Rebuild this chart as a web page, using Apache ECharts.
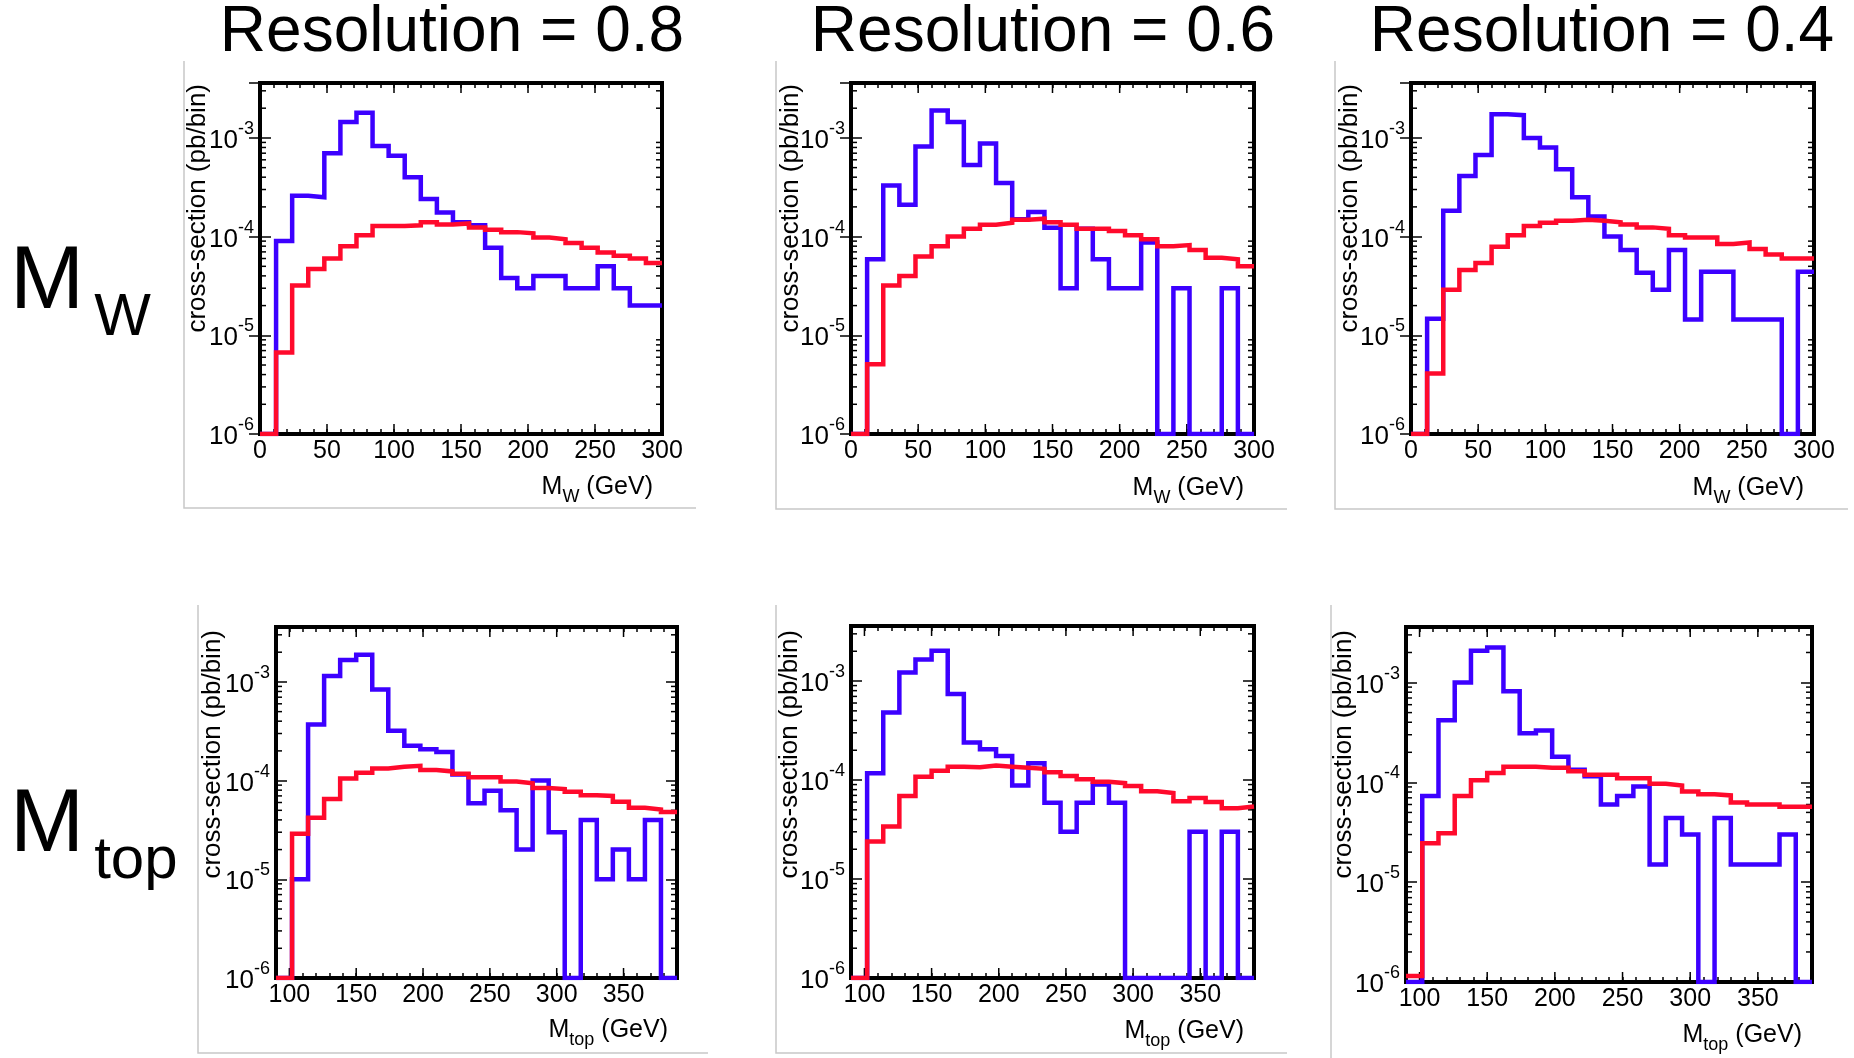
<!DOCTYPE html>
<html>
<head>
<meta charset="utf-8">
<script src="https://cdn.jsdelivr.net/npm/echarts@6/dist/echarts.min.js"></script>
<style>
html,body{margin:0;padding:0;background:#fff;}
#c{width:1854px;height:1058px;}
</style>
</head>
<body>
<div id="c"></div>
<script>
// ---------------- DATA ----------------
const wEdges   = [0,12,24,36,48,60,72,84,96,108,120,132,144,156,168,180,192,204,216,228,240,252,264,276,288,300];
const topEdges = [90,102,114,126,138,150,162,174,186,198,210,222,234,246,258,270,282,294,306,318,330,342,354,366,378,390];

const wMajorTicks   = [0,50,100,150,200,250,300];
const topMajorTicks = [100,150,200,250,300,350];
const yExponents    = [-6,-5,-4,-3];
const yMinorMantissas = [2,3,4,5,6,7,8,9];

const resolutions = ['0.8','0.6','0.4'];

// M_W, resolution 0.8
const mwRes08Blue = [0,9e-5,2.6e-4,2.5e-4,7e-4,1.45e-3,1.8e-3,8.3e-4,6.6e-4,4e-4,2.4e-4,1.75e-4,1.4e-4,1.3e-4,7.7e-5,3.8e-5,3e-5,4e-5,4e-5,3e-5,3e-5,5e-5,3e-5,2e-5,2e-5];
const mwRes08Red  = [0,6.7e-6,3.2e-5,4.7e-5,6e-5,8e-5,1.03e-4,1.28e-4,1.28e-4,1.3e-4,1.4e-4,1.33e-4,1.36e-4,1.24e-4,1.17e-4,1.11e-4,1.08e-4,9.8e-5,9.4e-5,8.6e-5,7.7e-5,6.9e-5,6.4e-5,6e-5,5.4e-5];
// M_W, resolution 0.6
const mwRes06Blue = [0,5.9e-5,3.3e-4,2.1e-4,8.2e-4,1.9e-3,1.45e-3,5.3e-4,8.8e-4,3.5e-4,1.5e-4,1.78e-4,1.23e-4,3e-5,1.2e-4,5.9e-5,3e-5,3e-5,8.7e-5,0,3e-5,0,0,3e-5,0];
const mwRes06Red  = [0,5.1e-6,3.2e-5,4e-5,6.3e-5,8e-5,1e-4,1.2e-4,1.32e-4,1.38e-4,1.48e-4,1.52e-4,1.4e-4,1.32e-4,1.2e-4,1.2e-4,1.14e-4,1.03e-4,9.4e-5,8e-5,8.2e-5,7.3e-5,6.1e-5,5.9e-5,5e-5];
// M_W, resolution 0.4
const mwRes04Blue = [0,1.47e-5,1.83e-4,4.1e-4,6.7e-4,1.74e-3,1.7e-3,1e-3,8e-4,4.8e-4,2.5e-4,1.6e-4,1e-4,7.3e-5,4.3e-5,2.9e-5,7.3e-5,1.45e-5,4.4e-5,4.4e-5,1.45e-5,1.45e-5,1.45e-5,0,4.4e-5];
const mwRes04Red  = [0,4.1e-6,2.9e-5,4.6e-5,5.4e-5,7.9e-5,1.03e-4,1.28e-4,1.38e-4,1.45e-4,1.48e-4,1.45e-4,1.4e-4,1.33e-4,1.24e-4,1.2e-4,1.03e-4,9.8e-5,9.8e-5,8.4e-5,8.7e-5,7.5e-5,6.6e-5,6e-5,6e-5];
// M_top, resolution 0.8
const mtRes08Blue = [0,1e-5,3.7e-4,1.15e-3,1.67e-3,1.88e-3,8.4e-4,3.2e-4,2.25e-4,2.08e-4,1.95e-4,1.15e-4,5.9e-5,7.9e-5,5e-5,2e-5,1e-4,3e-5,0,4e-5,1e-5,2e-5,1e-5,4e-5,0];
const mtRes08Red  = [0,2.9e-5,4.2e-5,6.5e-5,1.05e-4,1.2e-4,1.33e-4,1.38e-4,1.41e-4,1.28e-4,1.24e-4,1.17e-4,1.08e-4,1.08e-4,9.8e-5,9.4e-5,8.4e-5,8.2e-5,7.7e-5,7.1e-5,7e-5,6.1e-5,5.3e-5,5.1e-5,4.8e-5];
// M_top, resolution 0.6
const mtRes06Blue = [0,1.17e-4,4.8e-4,1.22e-3,1.65e-3,2.03e-3,7.4e-4,2.4e-4,2.05e-4,1.75e-4,8.8e-5,1.48e-4,5.9e-5,3e-5,5.9e-5,9e-5,5.9e-5,0,0,0,0,3e-5,0,3e-5,0];
const mtRes06Red  = [0,2.4e-5,3.4e-5,6.9e-5,1.08e-4,1.24e-4,1.36e-4,1.35e-4,1.4e-4,1.36e-4,1.33e-4,1.3e-4,1.2e-4,1.1e-4,1.02e-4,9.6e-5,9.3e-5,8.7e-5,7.7e-5,7.4e-5,6.1e-5,6.6e-5,6e-5,5.2e-5,5.4e-5];
// M_top, resolution 0.4
const mtRes04Blue = [0,7.3e-5,4.2e-4,1e-3,2.08e-3,2.25e-3,8.2e-4,3.1e-4,3.3e-4,1.8e-4,1.34e-4,1.15e-4,6e-5,7.3e-5,9.1e-5,1.5e-5,4.4e-5,3e-5,0,4.4e-5,1.5e-5,1.5e-5,1.5e-5,3e-5,0];
const mtRes04Red  = [1.15e-6,2.45e-5,3.1e-5,7.3e-5,1.05e-4,1.24e-4,1.43e-4,1.43e-4,1.4e-4,1.4e-4,1.29e-4,1.19e-4,1.19e-4,1.1e-4,1.1e-4,9.7e-5,9.3e-5,8.1e-5,7.6e-5,7.4e-5,6.3e-5,6e-5,6e-5,5.7e-5,5.7e-5];

const Y_MIN = 1e-6, Y_MAX = 3.6e-3;

// ---------------- LAYOUT ----------------
const FONT = "'Liberation Sans', Arial, Helvetica, sans-serif";
const BLUE = '#3c00ff', RED = '#ff0a2c';

const panels = [
  {grid:{left:260,top:83,width:402,height:351}, edges:wEdges, xMin:0, xMax:300, major:wMajorTicks, blue:mwRes08Blue, red:mwRes08Red,
   yT:[198,84], xT:[653,487], sub:'W', frame:[184,61,696,508]},
  {grid:{left:851,top:83,width:403,height:351}, edges:wEdges, xMin:0, xMax:300, major:wMajorTicks, blue:mwRes06Blue, red:mwRes06Red,
   yT:[791,84], xT:[1244,488], sub:'W', frame:[776,61,1287,509]},
  {grid:{left:1411,top:83,width:403,height:351}, edges:wEdges, xMin:0, xMax:300, major:wMajorTicks, blue:mwRes04Blue, red:mwRes04Red,
   yT:[1350,84], xT:[1804,488], sub:'W', frame:[1335,61,1848,509]},
  {grid:{left:276,top:627,width:401,height:351}, edges:topEdges, xMin:90, xMax:390, major:topMajorTicks, blue:mtRes08Blue, red:mtRes08Red,
   yT:[213,630], xT:[668,1030], sub:'top', frame:[198,605,708,1053]},
  {grid:{left:851,top:626,width:403,height:352}, edges:topEdges, xMin:90, xMax:390, major:topMajorTicks, blue:mtRes06Blue, red:mtRes06Red,
   yT:[790,630], xT:[1244,1031], sub:'top', frame:[776,605,1287,1053]},
  {grid:{left:1406,top:627,width:406,height:355}, edges:topEdges, xMin:90, xMax:390, major:topMajorTicks, blue:mtRes04Blue, red:mtRes04Red,
   yT:[1344,630], xT:[1802,1035], sub:'top', frame:[1331,605,null,1060]}
];

const yMinorTicks = [];
yExponents.forEach(e => yMinorMantissas.forEach(m => {
  const v = m * Math.pow(10, e);
  if (v < Y_MAX) yMinorTicks.push(v);
}));

function stepData(edges, vals) {
  const pts = vals.map((v, i) => [edges[i], Math.max(v, Y_MIN)]);
  pts.push([edges[vals.length], Math.max(vals[vals.length - 1], Y_MIN)]);
  return pts;
}

function yLabel(v) {
  const e = Math.log10(v), r = Math.round(e);
  if (Math.abs(e - r) > 1e-6) return '';
  return '{b|10}{s|' + r + '}';
}

const grids = [], xAxes = [], yAxes = [], series = [], graphics = [];

panels.forEach((p, i) => {
  grids.push(Object.assign({show:true, borderColor:'#000', borderWidth:4, backgroundColor:'transparent', containLabel:false}, p.grid));
  const xBase = {gridIndex:i, type:'value', min:p.xMin, max:p.xMax, interval:10,
    axisLine:{show:false}, splitLine:{show:false},
    axisTick:{show:true, inside:true, length:5, lineStyle:{color:'#000', width:1.5}}};
  xAxes.push(Object.assign({}, xBase, {position:'bottom',
    axisLabel:{show:true, color:'#000', fontSize:25, fontFamily:FONT, margin:5,
      formatter: v => (p.major.indexOf(v) >= 0 ? String(v) : '')}}));
  xAxes.push(Object.assign({}, xBase, {position:'top', axisLabel:{show:false}}));
  const yBase = {gridIndex:i, type:'log', logBase:10, min:Y_MIN, max:Y_MAX,
    axisLine:{show:false}, splitLine:{show:false}, minorTick:{show:false},
    axisTick:{show:true, inside:true, length:11, lineStyle:{color:'#000', width:1.5}}};
  yAxes.push(Object.assign({}, yBase, {position:'left',
    axisLabel:{show:true, margin:6, formatter:yLabel,
      rich:{b:{fontSize:26, fontFamily:FONT, color:'#000', padding:[6,0,0,0]},
            s:{fontSize:18, fontFamily:FONT, color:'#000', padding:[0,0,18,0]}}}}));
  yAxes.push(Object.assign({}, yBase, {position:'right', axisLabel:{show:false}}));

  series.push({type:'line', xAxisIndex:2*i, yAxisIndex:2*i, data:stepData(p.edges, p.blue), step:'end',
    symbol:'none', animation:false, lineStyle:{color:BLUE, width:4.5, join:'miter', cap:'butt'}, z:3});
  series.push({type:'line', xAxisIndex:2*i, yAxisIndex:2*i, data:stepData(p.edges, p.red), step:'end',
    symbol:'none', animation:false, lineStyle:{color:RED, width:4.5, join:'miter', cap:'butt'}, z:4});
  series.push({type:'custom', xAxisIndex:2*i, yAxisIndex:2*i, silent:true, animation:false, z:2,
    data:[[p.xMin, Y_MIN]],
    renderItem:(params, api) => {
      const cs = params.coordSys;
      const ls = {stroke:'#000', lineWidth:1.5};
      const ch = [];
      p.major.forEach(v => {
        const x = api.coord([v, Y_MIN])[0];
        ch.push({type:'line', shape:{x1:x, y1:cs.y+cs.height, x2:x, y2:cs.y+cs.height-10}, style:ls});
        ch.push({type:'line', shape:{x1:x, y1:cs.y, x2:x, y2:cs.y+10}, style:ls});
      });
      yMinorTicks.forEach(v => {
        const y = api.coord([p.xMin, v])[1];
        ch.push({type:'line', shape:{x1:cs.x, y1:y, x2:cs.x+6, y2:y}, style:ls});
        ch.push({type:'line', shape:{x1:cs.x+cs.width, y1:y, x2:cs.x+cs.width-6, y2:y}, style:ls});
      });
      return {type:'group', children:ch};
    }});

  // outer light frame of each pasted panel
  const f = p.frame;
  const pts = f[2] === null ? [[f[0],f[1]],[f[0],f[3]]] : [[f[0],f[1]],[f[0],f[3]],[f[2],f[3]]];
  graphics.push({type:'polyline', silent:true, z:-1, shape:{points:pts}, style:{stroke:'#c8c8c8', lineWidth:1.5, fill:null}});

  // y axis title
  graphics.push({type:'text', x:p.yT[0], y:p.yT[1], rotation:Math.PI/2, silent:true,
    style:{text:'cross-section (pb/bin)', fontSize:26, fontFamily:FONT, fill:'#000',
      align:'right', verticalAlign:'middle', textAlign:'right', textVerticalAlign:'middle'}});
  // x axis title
  graphics.push({type:'text', x:p.xT[0], y:p.xT[1], silent:true,
    style:{text:'{m|M}{s|' + p.sub + '}{m| (GeV)}', fill:'#000',
      align:'right', verticalAlign:'middle', textAlign:'right', textVerticalAlign:'middle',
      rich:{m:{fontSize:25, fontFamily:FONT, fill:'#000'},
            s:{fontSize:18, fontFamily:FONT, fill:'#000', padding:[20,0,0,0]}}}});
});

// column titles
const titleX = [452, 1043, 1602];
resolutions.forEach((r, i) => {
  graphics.push({type:'text', x:titleX[i], y:33, silent:true,
    style:{text:'Resolution = ' + r, fontSize:64, fontFamily:FONT, fill:'#000',
      align:'center', verticalAlign:'middle', textAlign:'center', textVerticalAlign:'middle'}});
});
// row labels
const rowLabels = [{main:'M', sub:'W', x:10, y:283}, {main:'M', sub:'top', x:10, y:826}];
rowLabels.forEach(r => {
  graphics.push({type:'text', x:r.x, y:r.y, silent:true,
    style:{text:'{a|' + r.main + '}{b|' + r.sub + '}', fill:'#000',
      align:'left', verticalAlign:'middle', textAlign:'left', textVerticalAlign:'middle',
      rich:{a:{fontSize:89, fontFamily:FONT, fill:'#000'},
            b:{fontSize:60, fontFamily:FONT, fill:'#000', padding:[70,0,0,10]}}}});
});

const chart = echarts.init(document.getElementById('c'), null, {renderer:'canvas'});
chart.setOption({
  animation:false,
  backgroundColor:'#fff',
  grid:grids, xAxis:xAxes, yAxis:yAxes, series:series, graphic:graphics
});
</script>
</body>
</html>
